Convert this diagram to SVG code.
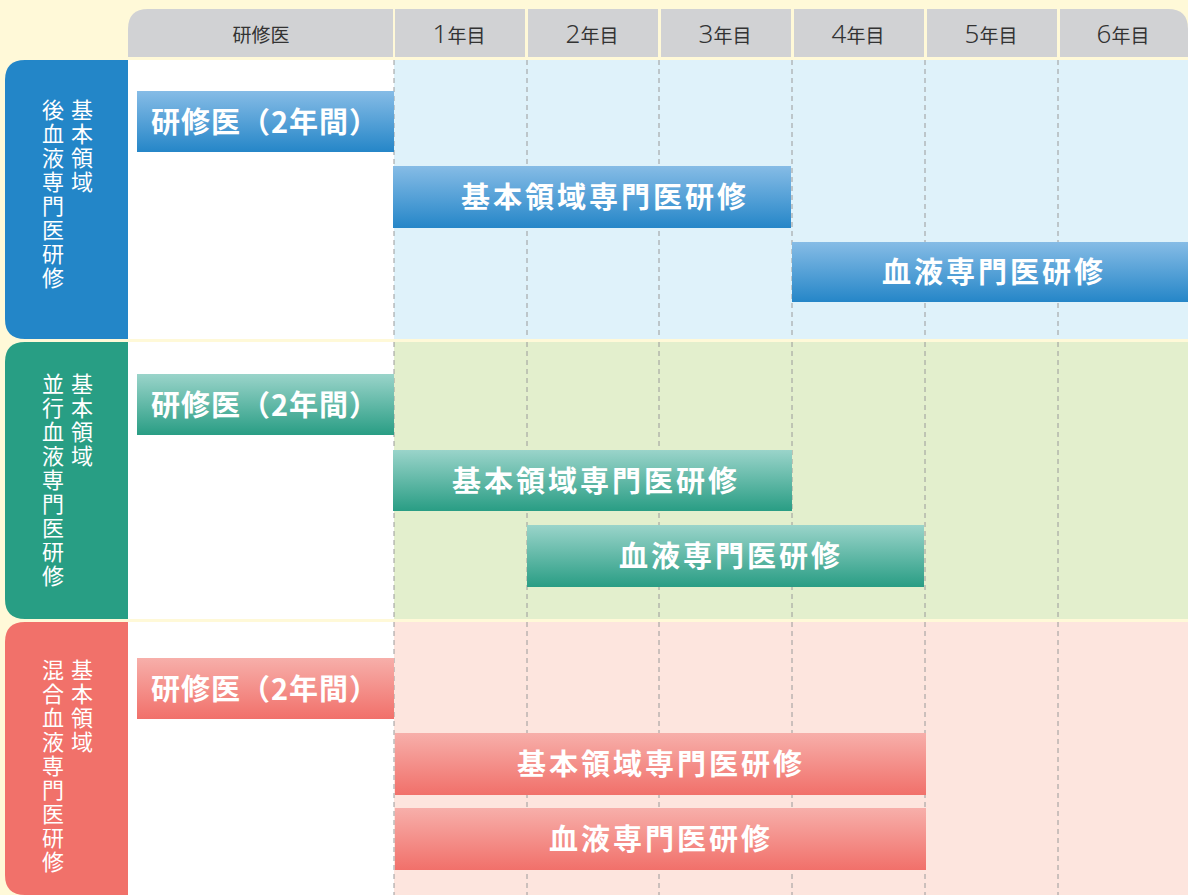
<svg xmlns="http://www.w3.org/2000/svg" width="1188" height="895" viewBox="0 0 1188 895">
<style>
.hd{font-family:"Noto Sans CJK JP","Noto Sans",sans-serif;fill:#333;font-size:19px;text-anchor:middle}
.num{font-size:26px;font-family:"Noto Sans","Noto Sans CJK JP",sans-serif;font-weight:300}
.lbl{font-family:"Noto Sans CJK JP",sans-serif;fill:#fff;font-size:22px;letter-spacing:2px;writing-mode:vertical-rl}
.bt{font-family:"Noto Sans CJK JP",sans-serif;fill:#fff;font-size:29px;font-weight:bold;text-anchor:middle;letter-spacing:3px}
.bs{letter-spacing:1px}
.dash{stroke:#9a9a9a;stroke-width:1;stroke-dasharray:5 4;fill:none}
</style>
<defs>
<linearGradient id="gb" x1="0" y1="0" x2="0" y2="1"><stop offset="0" stop-color="#86BCE6"/><stop offset="1" stop-color="#2586C8"/></linearGradient>
<linearGradient id="gg" x1="0" y1="0" x2="0" y2="1"><stop offset="0" stop-color="#9AD4CA"/><stop offset="1" stop-color="#299D84"/></linearGradient>
<linearGradient id="gr" x1="0" y1="0" x2="0" y2="1"><stop offset="0" stop-color="#F7AFAA"/><stop offset="1" stop-color="#F1706A"/></linearGradient>
</defs>
<rect width="1188" height="895" fill="#FFF9D8"/>
<g id="header">
<path d="M128 57 V29 Q128 9 148 9 H393 V57 Z" fill="#D1D2D4"/>
<rect x="395" y="9" width="130" height="48" fill="#D1D2D4"/>
<rect x="528" y="9" width="130" height="48" fill="#D1D2D4"/>
<rect x="661" y="9" width="130" height="48" fill="#D1D2D4"/>
<rect x="794" y="9" width="130" height="48" fill="#D1D2D4"/>
<rect x="927" y="9" width="130" height="48" fill="#D1D2D4"/>
<path d="M1060 9 H1168 Q1188 9 1188 29 V57 H1060 Z" fill="#D1D2D4"/>
<text class="hd" x="261" y="42">研修医</text>
<text class="hd" x="459" y="43"><tspan class="num">1</tspan>年目</text>
<text class="hd" x="592" y="43"><tspan class="num">2</tspan>年目</text>
<text class="hd" x="725" y="43"><tspan class="num">3</tspan>年目</text>
<text class="hd" x="858" y="43"><tspan class="num">4</tspan>年目</text>
<text class="hd" x="991" y="43"><tspan class="num">5</tspan>年目</text>
<text class="hd" x="1123" y="43"><tspan class="num">6</tspan>年目</text>
</g>
<g id="section1">
<path d="M128 60 V339 H25 Q5 339 5 319 V80 Q5 60 25 60 Z" fill="#2386C8"/>
<rect x="128" y="60" width="266" height="279" fill="#fff"/>
<rect x="394" y="60" width="794" height="279" fill="#DFF2FA"/>
<text class="lbl" x="82" y="99">基本領域</text>
<text class="lbl" x="53" y="99">後血液専門医研修</text>
</g>
<g id="section2">
<path d="M128 342 V619 H25 Q5 619 5 599 V362 Q5 342 25 342 Z" fill="#289E84"/>
<rect x="128" y="342" width="266" height="277" fill="#fff"/>
<rect x="394" y="342" width="794" height="277" fill="#E3EFCD"/>
<text class="lbl" x="82" y="373">基本領域</text>
<text class="lbl" x="53" y="373">並行血液専門医研修</text>
</g>
<g id="section3">
<path d="M128 622 V895 H25 Q5 895 5 875 V642 Q5 622 25 622 Z" fill="#F1716A"/>
<rect x="128" y="622" width="266" height="273" fill="#fff"/>
<rect x="394" y="622" width="794" height="273" fill="#FDE5DE"/>
<text class="lbl" x="82" y="659">基本領域</text>
<text class="lbl" x="53" y="659">混合血液専門医研修</text>
</g>
<g id="connectors">
<path class="dash" d="M394 60V339M527 60V339M659 60V339M792 60V339M925 60V339M1058 60V339"/>
<path class="dash" d="M394 342V619M527 342V619M659 342V619M792 342V619M925 342V619M1058 342V619"/>
<path class="dash" d="M394 622V895M527 622V895M659 622V895M792 622V895M925 622V895M1058 622V895"/>
</g>
<g id="bar1a"><rect x="137" y="91" width="257" height="61" fill="url(#gb)"/><text class="bt bs" x="265" y="133">研修医（2年間）</text></g>
<g id="bar1b"><rect x="393" y="166" width="398" height="62" fill="url(#gb)"/><text class="bt" x="605" y="208">基本領域専門医研修</text></g>
<g id="bar1c"><rect x="792" y="242" width="396" height="60" fill="url(#gb)"/><text class="bt" x="994" y="283">血液専門医研修</text></g>
<g id="bar2a"><rect x="137" y="374" width="257" height="61" fill="url(#gg)"/><text class="bt bs" x="265" y="416">研修医（2年間）</text></g>
<g id="bar2b"><rect x="393" y="450" width="399" height="61" fill="url(#gg)"/><text class="bt" x="596" y="492">基本領域専門医研修</text></g>
<g id="bar2c"><rect x="527" y="525" width="397" height="62" fill="url(#gg)"/><text class="bt" x="731" y="567">血液専門医研修</text></g>
<g id="bar3a"><rect x="137" y="658" width="257" height="61" fill="url(#gr)"/><text class="bt bs" x="265" y="700">研修医（2年間）</text></g>
<g id="bar3b"><rect x="395" y="733" width="531" height="62" fill="url(#gr)"/><text class="bt" x="661" y="775">基本領域専門医研修</text></g>
<g id="bar3c"><rect x="395" y="808" width="531" height="62" fill="url(#gr)"/><text class="bt" x="661" y="850">血液専門医研修</text></g>
</svg>
